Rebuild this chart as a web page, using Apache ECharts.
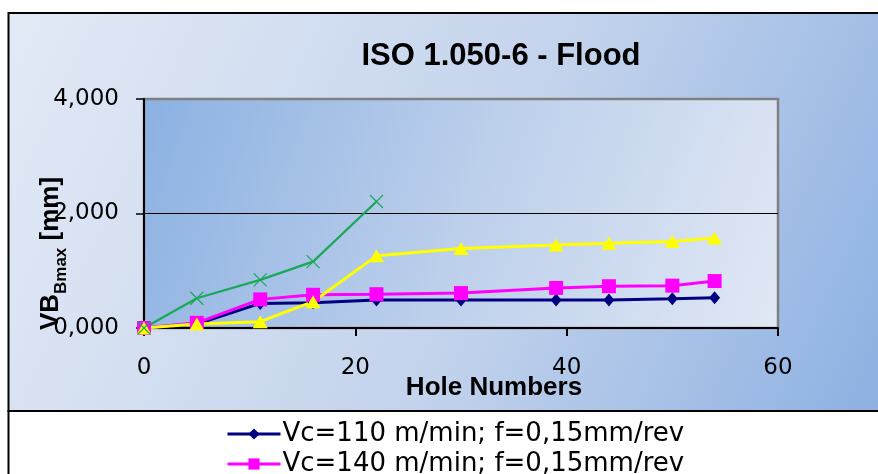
<!DOCTYPE html>
<html>
<head>
<meta charset="utf-8">
<script src="https://cdn.jsdelivr.net/npm/echarts@6/dist/echarts.min.js"></script>
<style>html,body{margin:0;padding:0;background:#fff;}#c{width:878px;height:474px;}</style>
</head>
<body>
<div id="c"></div>
<script>
const titleText = 'ISO 1.050-6 - Flood';
const xName = 'Hole Numbers';
const seriesNames = ['Vc=110 m/min; f=0,15mm/rev', 'Vc=140 m/min; f=0,15mm/rev', 'Series 3', 'Series 4'];
const holes = [0, 5, 11, 16, 22, 30, 39, 44, 50, 54];
const holesGreen = [0, 5, 11, 16, 22];
const vb110 = [0, 0.07, 0.43, 0.44, 0.49, 0.49, 0.49, 0.49, 0.51, 0.53];
const vb140 = [0, 0.09, 0.50, 0.58, 0.59, 0.61, 0.70, 0.73, 0.74, 0.82];
const vbYellow = [0, 0.07, 0.11, 0.46, 1.26, 1.39, 1.45, 1.48, 1.51, 1.57];
const vbGreen = [0, 0.52, 0.84, 1.16, 2.21];
const xTicks = [0, 20, 40, 60];
const yTicks = [0, 2, 4];

const pairs = (xs, ys) => xs.map((x, i) => [x, ys[i]]);
const G = echarts.graphic.LinearGradient;

const chart = echarts.init(document.getElementById('c'), null, {renderer: 'canvas'});
chart.setOption({
  animation: false,
  backgroundColor: '#ffffff',
  graphic: [
    {type: 'rect', z: -10, shape: {x: 8.5, y: 13, width: 880, height: 398},
     style: {fill: new G(0, 0, 1, 1, [{offset: 0, color: '#e3eaf6'}, {offset: 0.55, color: '#c3d3ec'}, {offset: 1, color: '#8cb0e2'}]),
             stroke: '#000', lineWidth: 2}},
    {type: 'rect', z: -10, shape: {x: 8.5, y: 411, width: 880, height: 80},
     style: {fill: '#ffffff', stroke: '#000', lineWidth: 2}}
  ],
  title: {
    text: titleText, left: 496, top: 36, textAlign: 'center',
    textStyle: {fontFamily: 'Liberation Sans', fontWeight: 'bold', fontSize: 31, color: '#000'}
  },
  legend: {
    data: seriesNames.slice(0, 2), orient: 'vertical', left: 221, top: 416, height: 120, width: 600,
    itemWidth: 53, itemHeight: 14, itemGap: 4,
    lineStyle: {width: 3},
    textStyle: {fontFamily: 'DejaVu Sans', fontSize: 26, lineHeight: 24, color: '#000', padding: [0, 0, 0, -3]}
  },
  grid: {
    left: 144, top: 99, width: 634, height: 229, show: true,
    backgroundColor: new G(0, 0, 1, 1, [{offset: 0, color: '#8bb1e2'}, {offset: 0.5, color: '#bccfeb'}, {offset: 1, color: '#e1e8f5'}]),
    borderColor: '#808080', borderWidth: 2.5
  },
  xAxis: {
    type: 'value', min: 0, max: 60, interval: 20,
    name: xName, nameLocation: 'middle', nameGap: 47, nameMoveOverlap: false,
    nameTextStyle: {fontFamily: 'Liberation Sans', fontWeight: 'bold', fontSize: 26, color: '#000', padding: [0, 0, 0, 66]},
    axisLine: {show: true, onZero: false, lineStyle: {color: '#000', width: 2}},
    axisTick: {show: true, length: 8, lineStyle: {color: '#000', width: 2}},
    axisLabel: {margin: 29, fontFamily: 'DejaVu Sans', fontSize: 23, color: '#000',
      formatter: v => xTicks.includes(v) ? String(v) : ''},
    splitLine: {show: false}
  },
  yAxis: {
    type: 'value', min: 0, max: 4, interval: 2,
    name: '{m|VB}{s|Bmax}{m| [mm]}', nameLocation: 'middle', nameRotate: 90, nameGap: 80, nameMoveOverlap: false,
    nameTextStyle: {padding: [0, 80, 0, 0], color: '#000',
      rich: {
        m: {fontFamily: 'Liberation Sans', fontWeight: 'bold', fontSize: 26, color: '#000', lineHeight: 32, verticalAlign: 'bottom'},
        s: {fontFamily: 'Liberation Sans', fontWeight: 'bold', fontSize: 17, color: '#000', lineHeight: 32, verticalAlign: 'bottom', padding: [0, 0, -6, 0]}
      }},
    axisLine: {show: true, lineStyle: {color: '#000', width: 2}},
    axisTick: {show: true, length: 8, lineStyle: {color: '#000', width: 1.5}},
    axisLabel: {margin: 25, fontFamily: 'DejaVu Sans', fontSize: 23, color: '#000',
      formatter: v => yTicks.includes(v) ? v.toFixed(3).replace('.', ',') : ''},
    splitLine: {show: true, showMinLine: false, showMaxLine: false, lineStyle: {color: '#000', width: 1}}
  },
  series: [
    {name: seriesNames[0], type: 'line', data: pairs(holes, vb110), symbol: 'diamond', symbolSize: [11, 13],
     itemStyle: {color: '#000080'}, lineStyle: {color: '#000080', width: 3}},
    {name: seriesNames[1], type: 'line', data: pairs(holes, vb140), symbol: 'rect', symbolSize: 14,
     itemStyle: {color: '#ff00ff'}, lineStyle: {color: '#ff00ff', width: 3}},
    {name: seriesNames[2], type: 'line', data: pairs(holes, vbYellow), symbol: 'triangle', symbolSize: [15, 13],
     itemStyle: {color: '#ffff00'}, lineStyle: {color: '#ffff00', width: 3}},
    {name: seriesNames[3], type: 'line', data: pairs(holesGreen, vbGreen), symbol: 'path://M0,0L10,10M10,0L0,10', symbolSize: 13,
     itemStyle: {color: '#1aa858', borderColor: '#1aa858', borderWidth: 1.2}, lineStyle: {color: '#1aa858', width: 2.2}}
  ]
});
</script>
</body>
</html>
